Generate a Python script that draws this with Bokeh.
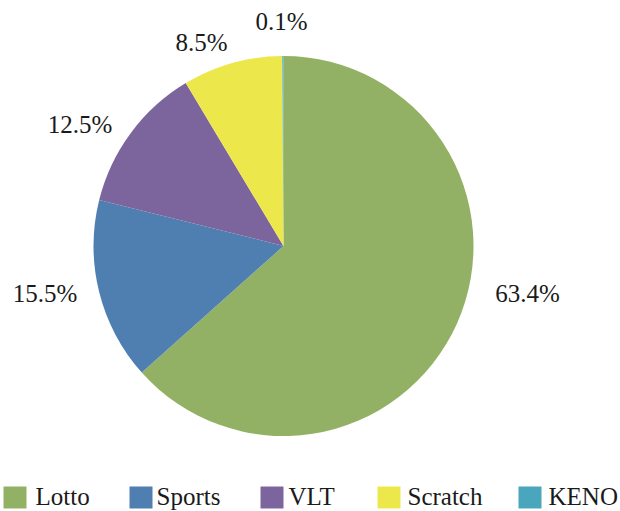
import math
from bokeh.plotting import figure
from bokeh.models import Range1d, ColumnDataSource
from bokeh.core.properties import value
from bokeh.embed import file_html
from bokeh.resources import INLINE

# ---- data ----
categories = ["Lotto", "Sports", "VLT", "Scratch", "KENO"]
shares = [63.4, 15.5, 12.5, 8.5, 0.1]
colors = ["#93b165", "#4f7fb1", "#7c649c", "#ece84c", "#4aa6bc"]
label_texts = ["63.4%", "15.5%", "12.5%", "8.5%", "0.1%"]

# ---- layout (screen pixel coordinates) ----
W, H = 620, 511
def sy(y):
    return H - y

FONT = "'Liberation Serif', 'Times New Roman', Times, serif"
TXT_SHIFT = -10  # compensate renderer baseline offset

cx, cy, R = 283, sy(245.5), 190
label_pos = [(527, 303), (44.5, 303), (79.5, 134), (201, 52), (281, 31)]
legend_sq_x = [14.5, 140.5, 271.5, 388.5, 529.5]
legend_tx_x = [35, 156, 288, 407, 548]
legend_sq_y = sy(497)
legend_tx_y = sy(506 + TXT_SHIFT)

total = sum(shares)
starts, ends = [], []
cum = 0.0
for s in shares:
    starts.append(math.radians(90 - cum / total * 360))
    cum += s
    ends.append(math.radians(90 - cum / total * 360))

p = figure(width=W, height=H, x_range=Range1d(0, W), y_range=Range1d(0, H),
           output_backend="svg", toolbar_location=None, min_border=0)
p.axis.visible = False
p.grid.visible = False
p.outline_line_color = None
p.background_fill_color = "white"
p.border_fill_color = "white"

src = ColumnDataSource(dict(start=starts, end=ends, color=colors, cat=categories))
p.wedge(x=cx, y=cy, radius=R, start_angle="start", end_angle="end", direction="clock",
        fill_color="color", line_color=None, source=src)

lsrc = ColumnDataSource(dict(x=[q[0] for q in label_pos],
                             y=[sy(q[1] + TXT_SHIFT) for q in label_pos],
                             t=label_texts))
p.text(x="x", y="y", text="t", source=lsrc, text_font=value(FONT),
       text_font_size="25px", text_color="#1a1a1a", text_align="center",
       text_baseline="alphabetic")

legsrc = ColumnDataSource(dict(x=legend_sq_x, y=[legend_sq_y] * 5, color=colors))
p.rect(x="x", y="y", width=23, height=22, fill_color="color", line_color=None, source=legsrc)
legt = ColumnDataSource(dict(x=legend_tx_x, y=[legend_tx_y] * 5, t=categories))
p.text(x="x", y="y", text="t", source=legt, text_font=value(FONT),
       text_font_size="25px", text_color="#1a1a1a", text_align="left",
       text_baseline="alphabetic")

open("out.html", "w").write(file_html(p, INLINE))
